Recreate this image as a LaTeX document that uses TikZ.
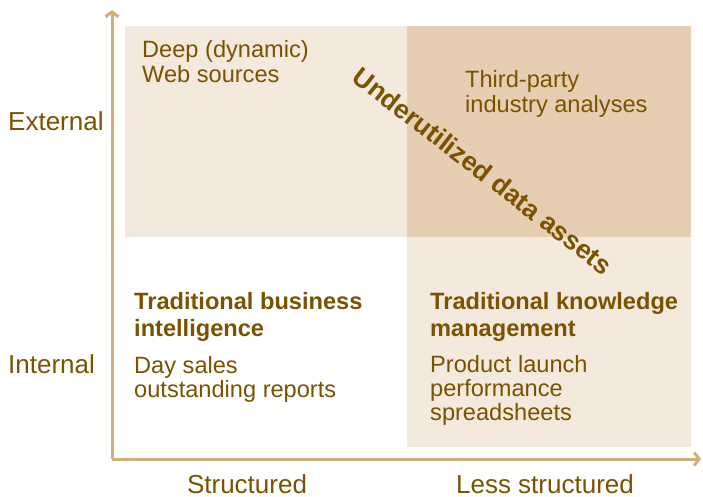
\documentclass[tikz,border=0pt]{standalone}
\usepackage{fontspec}
\setmainfont{Liberation Sans}
\usetikzlibrary{arrows.meta}
\definecolor{lightq}{HTML}{F3E9DC}
\definecolor{darkq}{HTML}{E5CEB1}
\definecolor{txt}{HTML}{7A5200}
\definecolor{axis}{HTML}{D2AE7C}
\begin{document}
\begin{tikzpicture}[x=1pt,y=-1pt,
  body/.style={anchor=base west,inner sep=0pt,text=txt,font=\fontsize{23.6}{24}\selectfont},
  head/.style={anchor=base west,inner sep=0pt,text=txt,font=\fontsize{23.6}{27}\selectfont\bfseries},
  axlab/.style={anchor=base west,inner sep=0pt,text=txt,font=\fontsize{26}{28}\selectfont},
  xlab/.style={anchor=base,inner sep=0pt,text=txt,font=\fontsize{26}{28}\selectfont},
  axisline/.style={draw=axis,line width=3pt,-{Straight Barb[length=5pt,width=13pt,line width=3pt]}}]
\useasboundingbox (0,0) rectangle (703,497);
% quadrants
\fill[lightq] (125,26) rectangle (407,237);
\fill[darkq] (407,26) rectangle (691,237);
\fill[lightq] (407,237) rectangle (691,447);
% axes
\coordinate (o) at (112,459);
\coordinate (ytop) at (112,10);
\coordinate (xend) at (701,459);
\draw[axisline] (o) -- (ytop);
\draw[axisline] (o) -- (xend);
% axis labels
\node[axlab] (ext) at (8,131) {External};
\node[axlab] (int) at (8,373) {Internal};
\node[xlab] (str) at (247,493) {Structured};
\node[xlab] (lstr) at (545,493) {Less structured};
% quadrant texts
\node[body] (deep) at (142,58) {\begin{tabular}[t]{@{}l@{}}Deep (dynamic)\\Web sources\end{tabular}};
\node[body] (third) at (465,88) {\begin{tabular}[t]{@{}l@{}}Third-party\\industry analyses\end{tabular}};
\node[head] (tbi) at (134,309) {\begin{tabular}[t]{@{}l@{}}Traditional business\\intelligence\end{tabular}};
\node[body] (day) at (134,373) {\begin{tabular}[t]{@{}l@{}}Day sales\\outstanding reports\end{tabular}};
\node[head] (tkm) at (430,309) {\begin{tabular}[t]{@{}l@{}}Traditional knowledge\\management\end{tabular}};
\node[body] (prod) at (430,372) {\begin{tabular}[t]{@{}l@{}}Product launch\\performance\\spreadsheets\end{tabular}};
% diagonal label
\node[inner sep=0pt,text=txt,font=\fontsize{26.5}{28}\selectfont\bfseries,rotate=-37.8] (under) at (483,171) {Underutilized data assets};
\end{tikzpicture}
\end{document}
